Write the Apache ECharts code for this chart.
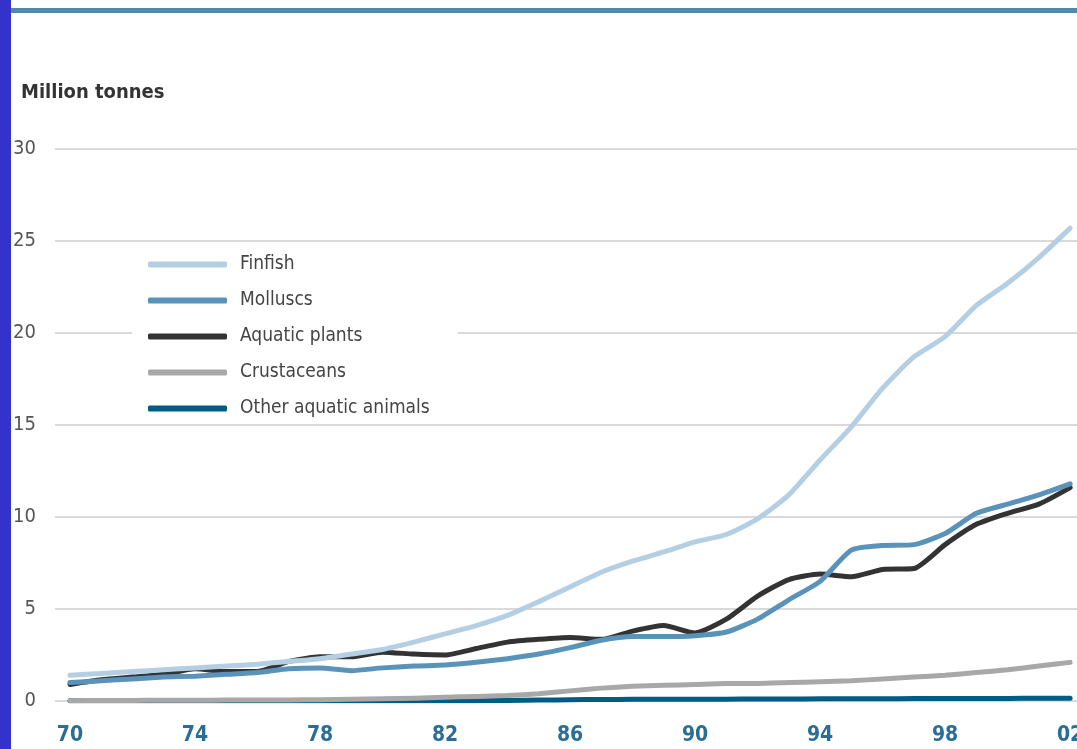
<!DOCTYPE html>
<html>
<head>
<meta charset="utf-8">
<script src="https://cdn.jsdelivr.net/npm/echarts@6/dist/echarts.min.js"></script>
<style>
  html, body { margin: 0; padding: 0; background: #fff; }
  #chart { width: 1077px; height: 749px; }
</style>
</head>
<body>
<div id="chart"></div>
<script>
// years 1970 - 2002
const years = [1970, 1971, 1972, 1973, 1974, 1975, 1976, 1977, 1978, 1979,
    1980, 1981, 1982, 1983, 1984, 1985, 1986, 1987, 1988, 1989,
    1990, 1991, 1992, 1993, 1994, 1995, 1996, 1997, 1998, 1999,
    2000, 2001, 2002];
const xTicks = [1970, 1974, 1978, 1982, 1986, 1990, 1994, 1998, 2002];
const yTicks = [0, 5, 10, 15, 20, 25, 30];

const finfish = [1.4, 1.5, 1.6, 1.7, 1.8, 1.9, 2.0, 2.15, 2.3, 2.55,
    2.8, 3.2, 3.65, 4.1, 4.65, 5.4, 6.2, 7.0, 7.6, 8.1,
    8.65, 9.05, 9.9, 11.2, 13.1, 14.9, 17.0, 18.7, 19.8, 21.5,
    22.7, 24.1, 25.7];
const molluscs = [1.0, 1.1, 1.2, 1.3, 1.35, 1.45, 1.55, 1.75, 1.8, 1.65,
    1.8, 1.9, 1.95, 2.1, 2.3, 2.55, 2.9, 3.3, 3.5, 3.5,
    3.55, 3.75, 4.45, 5.5, 6.5, 8.2, 8.45, 8.5, 9.1, 10.2,
    10.7, 11.2, 11.8];
const plants = [0.9, 1.15, 1.3, 1.45, 1.75, 1.6, 1.6, 2.15, 2.4, 2.4,
    2.65, 2.55, 2.5, 2.85, 3.2, 3.35, 3.45, 3.35, 3.8, 4.1,
    3.7, 4.45, 5.7, 6.6, 6.9, 6.75, 7.15, 7.2, 8.5, 9.6,
    10.2, 10.7, 11.6];
const crustaceans = [0.02, 0.03, 0.03, 0.04, 0.04, 0.05, 0.05, 0.06, 0.07, 0.1,
    0.12, 0.15, 0.2, 0.25, 0.3, 0.4, 0.55, 0.7, 0.8, 0.85,
    0.9, 0.95, 0.95, 1.0, 1.05, 1.1, 1.2, 1.3, 1.4, 1.55,
    1.7, 1.9, 2.1];
const others = [0.01, 0.01, 0.01, 0.01, 0.01, 0.01, 0.01, 0.01, 0.01, 0.01,
    0.01, 0.01, 0.01, 0.02, 0.03, 0.05, 0.07, 0.08, 0.09, 0.1,
    0.1, 0.1, 0.11, 0.11, 0.12, 0.12, 0.12, 0.13, 0.13, 0.14,
    0.14, 0.15, 0.15];

const seriesNames = ['Finfish', 'Molluscs', 'Aquatic plants', 'Crustaceans', 'Other aquatic animals'];
const seriesValues = [finfish, molluscs, plants, crustaceans, others];
const colors = ['#b4cfe3', '#5a93b9', '#333333', '#a8a8a8', '#005b85'];

const font = '"Liberation Sans Narrow", "DejaVu Sans Condensed", "Noto Sans", sans-serif';

function pairs(vals) {
    return years.map(function (y, i) { return [y, vals[i]]; });
}

const chart = echarts.init(document.getElementById('chart'));

chart.setOption({
    animation: false,
    backgroundColor: '#fff',
    color: colors,
    title: {
        text: 'Million tonnes',
        left: 16,
        top: 78,
        textStyle: { fontFamily: font, fontSize: 20, fontWeight: 600, color: '#333' }
    },
    graphic: [
        { type: 'rect', shape: { x: 0, y: 0, width: 11, height: 749 }, style: { fill: '#3333cc' } },
        { type: 'rect', shape: { x: 11, y: 8, width: 1066, height: 5 }, style: { fill: '#4f8aab' } }
    ],
    legend: {
        orient: 'vertical',
        left: 132,
        top: 249,
        padding: [6, 28, 4, 16],
        backgroundColor: '#fff',
        icon: 'roundRect',
        itemWidth: 79,
        itemHeight: 6,
        itemGap: 17,
        textStyle: { fontFamily: font, fontSize: 19, color: '#444', padding: [0, 0, 0, 8] },
        data: seriesNames
    },
    grid: { left: 55, right: 0, top: 149, bottom: 48, containLabel: false, outerBoundsMode: 'none' },
    xAxis: {
        type: 'value',
        min: 1969.52,
        max: 2002.22,
        axisLine: { show: false },
        axisTick: { show: false },
        splitLine: { show: false },
        axisLabel: {
            customValues: xTicks,
            margin: 24,
            fontFamily: font,
            fontSize: 21,
            fontWeight: 'bold',
            color: '#2a6d95',
            formatter: function (v) { return String(v).slice(2); }
        }
    },
    yAxis: {
        type: 'value',
        min: 0,
        max: 30,
        interval: 5,
        axisLine: { show: false },
        axisTick: { show: false },
        axisLabel: {
            margin: 19,
            fontFamily: font,
            fontSize: 20,
            color: '#555',
            formatter: function (v) { return yTicks.indexOf(v) >= 0 ? String(v) : ''; }
        },
        splitLine: { lineStyle: { color: '#cccccc', width: 1.5 } }
    },
    series: seriesNames.map(function (name, i) {
        return {
            name: name,
            type: 'line',
            data: pairs(seriesValues[i]),
            showSymbol: false,
            symbol: 'none',
            smooth: 0.2,
            lineStyle: { width: 5, color: colors[i], cap: 'round', join: 'round' },
            z: 10 - i
        };
    })
});
</script>
</body>
</html>
